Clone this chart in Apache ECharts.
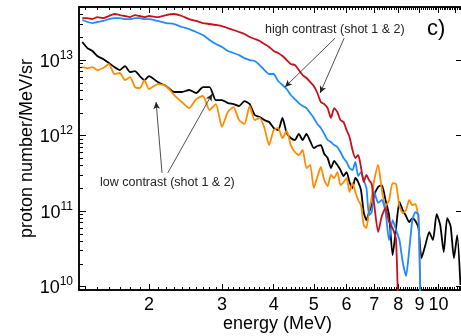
<!DOCTYPE html>
<html>
<head>
    <meta charset="UTF-8">
    <title>proton spectra</title>
    <script src="https://cdn.jsdelivr.net/npm/echarts@6/dist/echarts.min.js"></script>
    <style>
        html, body { margin: 0; padding: 0; background: #fff; }
        #chart { width: 461px; height: 336px; }
    </style>
</head>
<body>
<div id="chart"></div>
<script>
    // energy grid (MeV), shared by all four spectra
    var energy = [1.38, 1.42, 1.46, 1.50, 1.55, 1.60, 1.65, 1.70, 1.75, 1.80, 1.85, 1.90, 1.95, 2.0,
        2.1, 2.2, 2.3, 2.4, 2.5, 2.6, 2.7, 2.8, 2.9,
        3.0, 3.1, 3.2, 3.3, 3.4, 3.5, 3.6, 3.7, 3.8, 3.9,
        4.0, 4.1, 4.2, 4.3, 4.4, 4.5, 4.6, 4.7, 4.8, 4.9,
        5.0, 5.1, 5.2, 5.3, 5.4, 5.5, 5.6, 5.7, 5.8, 5.9,
        6.0, 6.1, 6.2, 6.3, 6.4, 6.5, 6.6, 6.7, 6.8, 6.9,
        7.0, 7.15, 7.3, 7.45, 7.6, 7.75, 7.9, 8.05, 8.2, 8.35, 8.5, 8.65, 8.8, 8.95,
        9.1, 9.3, 9.5, 9.7, 9.9, 10.1, 10.3, 10.5, 10.7, 10.9, 11.1, 11.3];

    // high contrast shot 1 (red)
    var highShot1 = [3.60e13, 3.60e13, 3.49e13, 3.71e13, 3.60e13, 3.83e13, 4.07e13, 3.94e13, 3.83e13, 3.71e13, 3.94e13, 3.83e13, 3.71e13, 3.83e13,
        3.71e13, 3.94e13, 4.07e13, 3.83e13, 3.49e13, 3.29e13, 3.09e13, 3.00e13, 2.91e13,
        2.82e13, 2.65e13, 2.50e13, 2.35e13, 2.21e13, 2.02e13, 1.90e13, 1.79e13, 1.63e13, 1.49e13,
        1.32e13, 1.24e13, 1.13e13, 1.00e13, 8.85e12, 8.58e12, 7.37e12, 6.33e12, 5.78e12, 5.11e12,
        4.52e12, 3.66e12, 2.78e12, 2.61e12, 2.31e12, 1.71e12, 2.31e12, 2.05e12, 1.60e12, 1.51e12,
        1.18e12, 9.55e11, 6.43e11, 5.04e11, 5.52e11, 3.83e11, 2.42e11, 3.00e11, 2.57e11, 2.28e11,
        1.20e11, 5.27e10, 8.59e10, 1.10e11, 7.15e10, 5.95e10, 4.13e10, 1e9, null, null, null, null, null, null,
        null, null, null, null, null, null, null, null, null, null, null, null];

    // high contrast shot 2 (blue)
    var highShot2 = [3.39e13, 3.19e13, 3.09e13, 3.19e13, 3.29e13, 3.49e13, 3.60e13, 3.60e13, 3.49e13, 3.49e13, 3.60e13, 3.60e13, 3.49e13, 3.49e13,
        3.29e13, 3.09e13, 3.00e13, 2.74e13, 2.57e13, 2.35e13, 2.14e13, 1.84e13, 1.63e13,
        1.49e13, 1.32e13, 1.24e13, 1.16e13, 1.06e13, 1.00e13, 9.70e12, 8.58e12, 7.37e12, 6.53e12,
        6.53e12, 5.27e12, 4.67e12, 4.13e12, 3.44e12, 3.04e12, 2.69e12, 2.46e12, 2.31e12, 1.99e12,
        1.71e12, 1.42e12, 1.26e12, 1.05e12, 8.72e11, 8.20e11, 7.48e11, 7.04e11, 6.05e11, 5.04e11,
        4.46e11, 3.71e11, 3.49e11, 4.46e11, 2.91e11, 3.28e11, 2.57e11, 2.02e11, 8.85e10, 9.70e10,
        1.79e11, 1.28e11, 1.40e11, 9.70e10, 4.13e10, 7.60e10, 5.60e10, 4.13e10, 2.11e10, 1.38e10, 3.04e10, 7.60e10, 9.70e10, 8.85e10,
        1e9, null, null, null, null, null, null, null, null, null, null, null];

    // low contrast shot 1 (black)
    var lowShot1 = [1.73e13, 1.44e13, 1.32e13, 1.13e13, 1.03e13, 9.13e12, 8.08e12, 7.37e12, 8.33e12, 6.94e12, 7.15e12, 6.14e12, 5.43e12, 6.14e12,
        5.11e12, 4.52e12, 3.77e12, 3.77e12, 4.01e12, 3.66e12, 4.39e12, 4.39e12, 2.95e12,
        2.95e12, 2.69e12, 2.61e12, 2.46e12, 2.86e12, 2.61e12, 1.87e12, 1.76e12, 1.60e12, 1.51e12,
        1.26e12, 1.18e12, 1.71e12, 1.08e12, 9.27e11, 8.72e11, 1.05e12, 8.72e11, 1.05e12, 8.46e11,
        6.83e11, 7.26e11, 7.48e11, 5.69e11, 5.04e11, 3.71e11, 4.60e11, 4.07e11, 3.49e11, 2.91e11,
        3.28e11, 2.42e11, 2.02e11, 2.74e11, 2.42e11, 1.90e11, 9.70e10, 7.60e10, 9.70e10, 1.20e11,
        1.63e11, 2.08e11, 2.21e11, 1.40e11, 8.85e10, 2.61e10, 5.95e10, 1.32e11, 1.03e11, 8.59e10, 7.15e10, 8.08e10, 7.37e10, 5.95e10,
        2.38e10, 3.55e10, 5.27e10, 4.13e10, 9.13e10, 6.53e10, 2.86e10, 8.08e10, 6.33e10, 2.38e10, 4.81e10, 1.05e10];

    // low contrast shot 2 (orange)
    var lowShot2 = [8.08e12, 7.83e12, 8.08e12, 7.37e12, 7.83e12, 8.85e12, 6.53e12, 6.73e12, 5.43e12, 5.95e12, 4.39e12, 4.26e12, 5.43e12, 4.13e12,
        4.81e12, 4.52e12, 3.44e12, 2.78e12, 2.31e12, 3.04e12, 3.34e12, 2.18e12, 2.61e12,
        1.30e12, 2.05e12, 2.38e12, 1.60e12, 1.42e12, 2.46e12, 1.60e12, 1.71e12, 1.26e12, 7.48e11,
        1.18e12, 1.26e12, 9.27e11, 1.15e12, 7.48e11, 6.05e11, 5.52e11, 6.43e11, 3.71e11, 4.07e11,
        2.02e11, 2.82e11, 3.83e11, 2.57e11, 2.14e11, 3.00e11, 2.74e11, 3.28e11, 2.21e11, 2.42e11,
        2.74e11, 1.79e11, 2.35e11, 1.79e11, 1.40e11, 1.20e11, 6.53e10, 5.95e10, 1.03e11, 1.53e11,
        2.57e11, 4.07e11, 1.90e11, 1.16e11, 1.40e11, 2.35e11, 2.28e11, 1.16e11, 9.41e10, 1.03e11, 1.40e11, 1.20e11, 1.24e11, 7.60e10,
        1e9, null, null, null, null, null, null, null, null, null, null, null];

    var xTickLabels = [2, 3, 4, 5, 6, 7, 8, 9, 10, 11];
    var yTickLabels = [1e10, 1e11, 1e12, 1e13];

    // arrows of the two notes, [energy, value] start -> end
    var arrowHigh = [[[5.63, 1.95e13], [4.26, 4.4e12]], [[5.92, 1.95e13], [5.18, 3.66e12]]];
    var arrowLow = [[[2.15, 3.2e11], [2.08, 2.78e12]], [[2.22, 3.2e11], [2.84, 3.55e12]]];

    var xMin = 1.355, xMax = 11.4, yMin = 9e9, yMax = 5.04e13;
    var font = 'Liberation Sans, Arial, Helvetica, sans-serif';

    // minor tick positions
    var xMinor = [];
    for (var t = 14; t <= 114; t++) {
        if (t % 10 !== 0) xMinor.push(t / 10);
    }
    var yMinor = [];
    for (var d = 9; d <= 13; d++) {
        for (var k = 2; k <= 9; k++) yMinor.push(k * Math.pow(10, d));
    }

    function pairs(vals) {
        var out = [];
        for (var i = 0; i < energy.length; i++) {
            if (vals[i] != null) out.push([energy[i], vals[i]]);
        }
        return out;
    }

    function logAxis(min, max, pos, grid, ticks, len, extra) {
        var ax = {
            type: 'log', logBase: 10, min: min, max: max, position: pos, gridIndex: grid,
            axisLine: { show: true, onZero: false, lineStyle: { color: '#000', width: 1.5 } },
            axisTick: { show: true, inside: true, length: len, customValues: ticks, lineStyle: { color: '#000', width: 1 } },
            axisLabel: { show: false },
            splitLine: { show: false },
            minorTick: { show: false }
        };
        if (extra) {
            for (var key in extra) ax[key] = extra[key];
        }
        return ax;
    }

    function arrowLines(list) {
        return list.map(function (a) {
            return [{ coord: a[0] }, { coord: a[1] }];
        });
    }

    var chart = echarts.init(document.getElementById('chart'));

    var option = {
        animation: false,
        backgroundColor: '#fff',
        grid: [
            { left: 79, top: 7, right: -1, bottom: 46, containLabel: false, outerBoundsMode: 'none' },
            { left: 79, top: 7, right: -1, bottom: 46, containLabel: false, outerBoundsMode: 'none' }
        ],
        xAxis: [
            logAxis(xMin, xMax, 'bottom', 0, xTickLabels, 6, {
                axisLabel: {
                    show: true, customValues: xTickLabels, hideOverlap: false,
                    fontSize: 18, color: '#000', fontFamily: font, margin: 6
                },
                name: 'energy (MeV)', nameLocation: 'middle', nameGap: 25, nameMoveOverlap: false,
                nameTextStyle: { fontSize: 18, color: '#000', fontFamily: font, padding: [0, 0, 0, 14] }
            }),
            logAxis(xMin, xMax, 'top', 0, xTickLabels, 6),
            logAxis(xMin, xMax, 'bottom', 1, xMinor, 3),
            logAxis(xMin, xMax, 'top', 1, xMinor, 3)
        ],
        yAxis: [
            logAxis(yMin, yMax, 'left', 0, yTickLabels, 7, {
                axisLabel: {
                    show: true, customValues: yTickLabels, hideOverlap: false, margin: 6,
                    formatter: function (v) {
                        return '{b|10}{s|' + Math.round(Math.log10(v)) + '}';
                    },
                    rich: {
                        b: { fontSize: 18, color: '#000', fontFamily: font, verticalAlign: 'bottom' },
                        s: { fontSize: 12, color: '#000', fontFamily: font, verticalAlign: 'bottom', padding: [0, 0, 9, 0] }
                    }
                },
                name: 'proton number/MeV/sr', nameLocation: 'middle', nameGap: 43, nameMoveOverlap: false,
                nameTextStyle: { fontSize: 18, color: '#000', fontFamily: font }
            }),
            logAxis(yMin, yMax, 'right', 0, yTickLabels, 6),
            logAxis(yMin, yMax, 'left', 1, yMinor, 4),
            logAxis(yMin, yMax, 'right', 1, yMinor, 0)
        ],
        series: [
            {
                name: 'low contrast shot 1', type: 'line', data: pairs(lowShot1),
                showSymbol: false, smooth: 0.2, clip: true,
                lineStyle: { color: '#000000', width: 1.8 }
            },
            {
                name: 'low contrast shot 2', type: 'line', data: pairs(lowShot2),
                showSymbol: false, smooth: 0.2, clip: true,
                lineStyle: { color: '#ff8c00', width: 1.8 }
            },
            {
                name: 'high contrast shot 2', type: 'line', data: pairs(highShot2),
                showSymbol: false, smooth: 0.2, clip: true,
                lineStyle: { color: '#1e8cff', width: 1.8 }
            },
            {
                name: 'high contrast shot 1', type: 'line', data: pairs(highShot1),
                showSymbol: false, smooth: 0.2, clip: true,
                lineStyle: { color: '#c8101c', width: 1.8 }
            },
            {
                name: 'notes', type: 'line', data: [],
                markLine: {
                    silent: true, symbol: ['none', 'arrow'], symbolSize: [5, 7],
                    label: { show: false },
                    lineStyle: { color: '#222', width: 0.8, type: 'solid' },
                    data: arrowLines(arrowHigh).concat(arrowLines(arrowLow))
                }
            }
        ],
        graphic: [
            {
                type: 'text', left: 265, top: 23,
                style: { text: 'high contrast (shot 1 & 2)', fontSize: 12.5, fill: '#222', fontFamily: font }
            },
            {
                type: 'text', left: 100, top: 176,
                style: { text: 'low contrast (shot 1 & 2)', fontSize: 12.5, fill: '#222', fontFamily: font }
            },
            {
                type: 'text', left: 427, top: 18,
                style: { text: 'c)', fontSize: 22, fill: '#000', fontFamily: font }
            }
        ]
    };

    chart.setOption(option);
</script>
</body>
</html>
